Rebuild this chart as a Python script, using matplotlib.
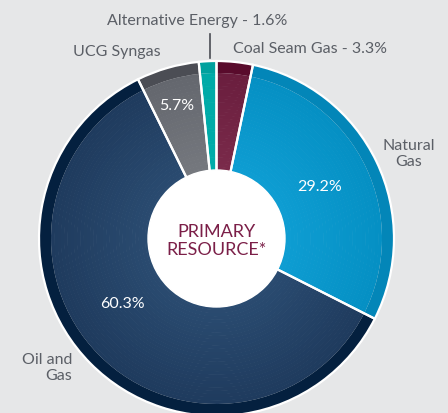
import numpy as np
import matplotlib.pyplot as plt
from matplotlib.colors import to_rgb

# data
resources = ["Coal Seam Gas", "Natural Gas", "Oil and Gas", "UCG Syngas", "Alternative Energy"]
shares = [3.3, 29.2, 60.3, 5.7, 1.6]

# colours: near the hole, near the rim, and the dark outer band
col_inner = ["#7a2a4a", "#0e9dd2", "#2a4b70", "#75787e", "#00aca9"]
col_outer = ["#6a1e3e", "#0590c4", "#1f3b5e", "#64676e", "#00aaa7"]
col_band = ["#590b2c", "#0386b8", "#04203f", "#4b4d54", "#00a19e"]

bg = "#e6e7e8"
txt = "#5b5f66"
plt.rcParams['font.family'] = ['Lato', 'DejaVu Sans']

fig = plt.figure(figsize=(4.48, 4.13), dpi=100)
fig.patch.set_facecolor(bg)
ax = fig.add_axes([0, 0, 1, 1])
ax.set_facecolor(bg)

cx, cy = 216.5, 238.5
R = 177.5
band = 12
hole = 68.5

# radial gradient made of thin rings
nring = 30
radii = np.linspace(R - band, hole, nring + 1)
for k in range(nring):
    t = k / (nring - 1)
    cols = []
    for a, b in zip(col_inner, col_outer):
        ca, cb = np.array(to_rgb(a)), np.array(to_rgb(b))
        cols.append(tuple(cb * (1 - t) + ca * t))
    ax.pie(shares, colors=cols, startangle=-90, counterclock=True,
           center=(cx, cy), radius=radii[k], frame=True,
           wedgeprops=dict(width=radii[k] - radii[k + 1] + 0.6, linewidth=0))

# dark outer band
ax.pie(shares, colors=col_band, startangle=-90, counterclock=True,
       center=(cx, cy), radius=R, frame=True,
       wedgeprops=dict(width=band, linewidth=0))

# white separators and outer edge
ax.pie(shares, colors=['none'] * len(shares), startangle=-90, counterclock=True,
       center=(cx, cy), radius=R, frame=True,
       wedgeprops=dict(edgecolor='white', linewidth=1.6, fill=False))

ax.add_patch(plt.Circle((cx, cy), hole, color='white', zorder=5))
ax.set_xlim(0, 448)
ax.set_ylim(413, 0)   # pixel coords, y down
ax.set_aspect('equal')
ax.axis('off')

ax.text(cx, 241, "PRIMARY\nRESOURCE*", ha='center', va='center', color="#7b1f48",
        fontsize=13, linespacing=1.2, zorder=6)

# percentage labels inside
ax.text(177, 106, "%.1f%%" % shares[3], ha='center', va='center', color='white', fontsize=11.5)
ax.text(320, 187, "%.1f%%" % shares[1], ha='center', va='center', color='white', fontsize=11.5)
ax.text(122, 304, "%.1f%%" % shares[2], ha='center', va='center', color='white', fontsize=11.5)

# outside labels
ax.text(197, 21, "%s - %.1f%%" % (resources[4], shares[4]), ha='center', va='center', color=txt, fontsize=11.5)
ax.plot([210, 210], [34, 58], color="#4a4d54", linewidth=1.2)
ax.text(233, 49, "%s - %.1f%%" % (resources[0], shares[0]), ha='left', va='center', color=txt, fontsize=11.5)
ax.text(117, 52, resources[3], ha='center', va='center', color=txt, fontsize=11.5)
ax.text(409, 154, "Natural\nGas", ha='center', va='center', color=txt, fontsize=11.5, linespacing=1.15)
ax.text(72, 368, "Oil and\nGas", ha='right', va='center', color=txt, fontsize=11.5, linespacing=1.15)

plt.savefig("out.png", dpi=100, facecolor=bg)
